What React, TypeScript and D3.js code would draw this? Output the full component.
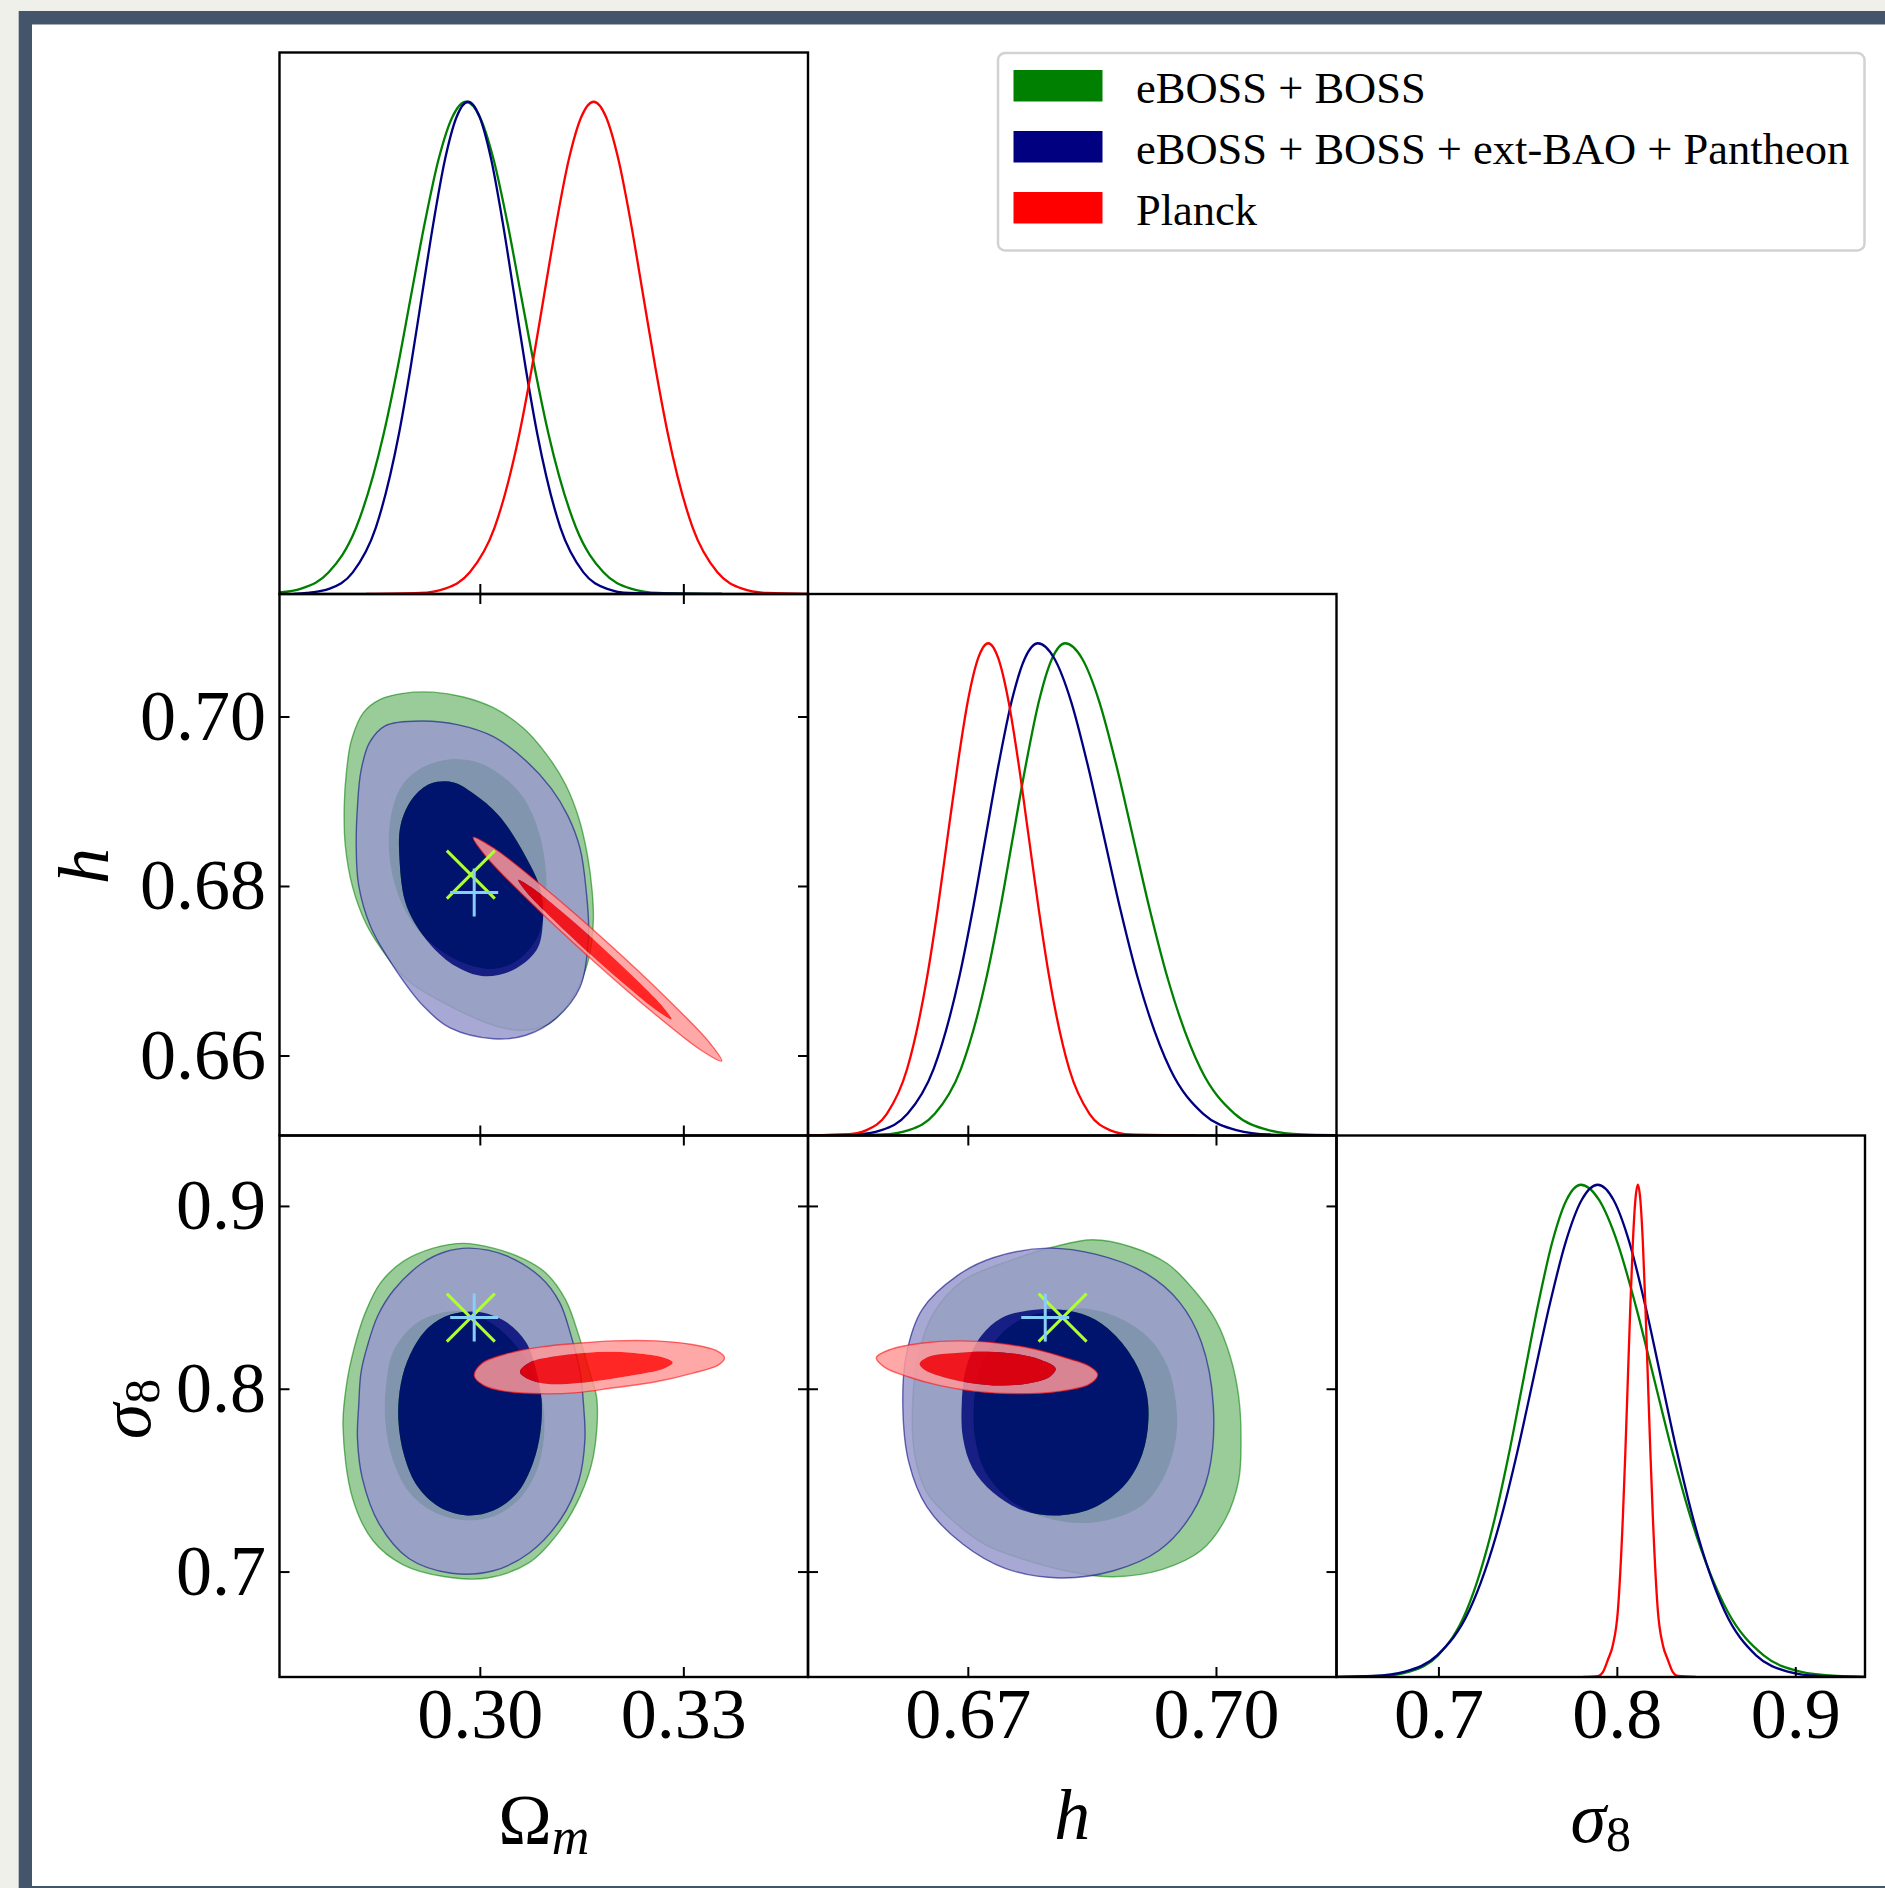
import React from "react";
import * as d3 from "d3";

type Pt = [number, number];

// ---------- axis ranges & ticks ----------
const OMEGA_RANGE: Pt = [0.2704, 0.3483];
const H_RANGE: Pt = [0.65062, 0.71451];
const S8_RANGE: Pt = [0.6426, 0.9388];
const P_MAX = 1.1;

const OMEGA_TICKS = [0.3, 0.33];
const OMEGA_TICK_LABELS = ["0.30", "0.33"];
const H_TICKS_Y = [0.66, 0.68, 0.7];
const H_TICK_LABELS_Y = ["0.66", "0.68", "0.70"];
const H_TICKS_X = [0.67, 0.7];
const H_TICK_LABELS_X = ["0.67", "0.70"];
const S8_TICKS = [0.7, 0.8, 0.9];
const S8_TICK_LABELS = ["0.7", "0.8", "0.9"];

// ---------- series ----------
const SERIES = ["eBOSS + BOSS", "eBOSS + BOSS + ext-BAO + Pantheon", "Planck"];
const COLORS = ["#008000", "#000080", "#ff0000"];
const PALE = ["#99cc99", "#9999cc", "#ff9999"];
const ALPHA = [1, 0.85, 0.85];

// ---------- reference markers ----------
const MARK_X = [0.2986, 0.6814, 0.8392];
const MARK_PLUS = [0.2991, 0.6793, 0.8392];

// ---------- 1D marginals [value, normalised density] ----------
const OM_GREEN_1D: Pt[] = [[0.2704,0.0032],[0.2736,0.011],[0.27765,0.044],[0.2817,0.135],[0.28575,0.325],[0.28778,0.458],[0.2898,0.607],[0.29183,0.755],[0.29385,0.883],[0.29588,0.969],[0.2979,1],[0.29993,0.969],[0.30195,0.883],[0.30398,0.755],[0.306,0.607],[0.30803,0.458],[0.31005,0.325],[0.3141,0.135],[0.31815,0.044],[0.3222,0.011],[0.32625,0.002],[0.3356,0]];
const OM_BLUE_1D: Pt[] = [[0.2725,0],[0.2744,0.002],[0.2778,0.011],[0.2812,0.044],[0.2846,0.135],[0.288,0.325],[0.2897,0.458],[0.2914,0.607],[0.2931,0.755],[0.2948,0.883],[0.2965,0.969],[0.2982,1],[0.2999,0.969],[0.3016,0.883],[0.3033,0.755],[0.305,0.607],[0.3067,0.458],[0.3084,0.325],[0.3118,0.135],[0.3152,0.044],[0.3186,0.011],[0.322,0.002],[0.3356,0]];
const OM_RED_1D: Pt[] = [[0.2832,0],[0.29115,0.002],[0.2948,0.011],[0.29845,0.044],[0.3021,0.135],[0.30575,0.325],[0.30758,0.458],[0.3094,0.607],[0.31123,0.755],[0.31305,0.883],[0.31488,0.969],[0.3167,1],[0.31853,0.969],[0.32035,0.883],[0.32218,0.755],[0.324,0.607],[0.32583,0.458],[0.32765,0.325],[0.3313,0.135],[0.33495,0.044],[0.3386,0.011],[0.34225,0.002],[0.3483,0]];

const H_GREEN_1D: Pt[] = [[0.6508,0],[0.65965,0.002],[0.6628,0.011],[0.66595,0.044],[0.6691,0.135],[0.67225,0.325],[0.67383,0.458],[0.6754,0.607],[0.67698,0.755],[0.67855,0.883],[0.68013,0.969],[0.6817,1],[0.68375,0.969],[0.6858,0.883],[0.68785,0.755],[0.6899,0.607],[0.69195,0.458],[0.694,0.325],[0.6981,0.135],[0.7022,0.044],[0.7063,0.011],[0.7104,0.002],[0.7143,0.0005]];
const H_BLUE_1D: Pt[] = [[0.6508,0],[0.65635,0.002],[0.6595,0.011],[0.66265,0.044],[0.6658,0.135],[0.66895,0.325],[0.67053,0.458],[0.6721,0.607],[0.67368,0.755],[0.67525,0.883],[0.67683,0.969],[0.6784,1],[0.6804,0.969],[0.6824,0.883],[0.6844,0.755],[0.6864,0.607],[0.6884,0.458],[0.6904,0.325],[0.6944,0.135],[0.6984,0.044],[0.7024,0.011],[0.7064,0.002],[0.7143,0]];
const H_RED_1D: Pt[] = [[0.6508,0],[0.65525,0.002],[0.6577,0.011],[0.66015,0.044],[0.6626,0.135],[0.66505,0.325],[0.66628,0.458],[0.6675,0.607],[0.66873,0.755],[0.66995,0.883],[0.67118,0.969],[0.6724,1],[0.67363,0.969],[0.67485,0.883],[0.67608,0.755],[0.6773,0.607],[0.67853,0.458],[0.67975,0.325],[0.6822,0.135],[0.68465,0.044],[0.6871,0.011],[0.68955,0.002],[0.6975,0]];

const S8_GREEN_1D: Pt[] = [[0.6426,0],[0.6675,0.002],[0.6835,0.011],[0.6995,0.044],[0.7155,0.135],[0.7315,0.325],[0.7395,0.458],[0.7475,0.607],[0.7555,0.755],[0.7635,0.883],[0.7715,0.969],[0.7795,1],[0.78975,0.969],[0.8,0.883],[0.81025,0.755],[0.8205,0.607],[0.83075,0.458],[0.841,0.325],[0.8615,0.135],[0.882,0.044],[0.9025,0.011],[0.923,0.002],[0.9388,0.0003]];
const S8_BLUE_1D: Pt[] = [[0.6426,0],[0.663,0.002],[0.681,0.011],[0.699,0.044],[0.717,0.135],[0.735,0.325],[0.744,0.458],[0.753,0.607],[0.762,0.755],[0.771,0.883],[0.78,0.969],[0.789,1],[0.79788,0.969],[0.80675,0.883],[0.81563,0.755],[0.8245,0.607],[0.83338,0.458],[0.84225,0.325],[0.86,0.135],[0.87775,0.044],[0.8955,0.011],[0.91325,0.002],[0.9388,0]];
const S8_RED_1D: Pt[] = [[0.781,0],[0.7891,0.002],[0.7919,0.01],[0.7947,0.035],[0.7975,0.065],[0.8003,0.135],[0.8031,0.325],[0.8045,0.458],[0.8059,0.607],[0.8073,0.755],[0.8087,0.883],[0.8101,0.969],[0.8115,1],[0.8129,0.969],[0.8143,0.883],[0.8157,0.755],[0.8171,0.607],[0.8185,0.458],[0.8199,0.325],[0.8227,0.135],[0.8255,0.065],[0.8283,0.035],[0.8311,0.01],[0.8339,0.002],[0.844,0]];

// ---------- 2D contours (68% inner, 95% outer) ----------
const OMH_GREEN_OUTER: Pt[] = [[0.28863,0.70279],[0.29306,0.70293],[0.2975,0.70236],[0.30193,0.70109],[0.30637,0.69867],[0.30992,0.69541],[0.31258,0.692],[0.31453,0.68802],[0.31577,0.68376],[0.31648,0.6795],[0.31666,0.67595],[0.31595,0.6714],[0.31382,0.66714],[0.30992,0.66373],[0.30619,0.66302],[0.30264,0.66345],[0.29661,0.66544],[0.28916,0.66899],[0.28526,0.67282],[0.28313,0.67566],[0.28118,0.67992],[0.28011,0.68475],[0.27994,0.68944],[0.28029,0.6937],[0.281,0.69725],[0.28277,0.70052],[0.28526,0.70208]];
const OMH_GREEN_INNER: Pt[] = [[0.29129,0.69398],[0.29519,0.69498],[0.29945,0.6947],[0.30335,0.69299],[0.30654,0.69029],[0.30868,0.68632],[0.30974,0.6812],[0.30938,0.67666],[0.30832,0.67382],[0.30548,0.67126],[0.30193,0.67027],[0.2975,0.67098],[0.29306,0.67311],[0.28969,0.67609],[0.28739,0.68021],[0.2865,0.68475],[0.28703,0.68916],[0.28863,0.69214]];
const OMH_BLUE_OUTER: Pt[] = [[0.28597,0.69896],[0.29129,0.69953],[0.29661,0.6991],[0.30193,0.69768],[0.30672,0.69484],[0.31045,0.69157],[0.31293,0.6883],[0.31471,0.68447],[0.31559,0.67964],[0.31595,0.6741],[0.31471,0.66814],[0.31116,0.66444],[0.30672,0.66245],[0.30193,0.66203],[0.29555,0.66331],[0.29164,0.66586],[0.28721,0.67055],[0.28384,0.67524],[0.28205,0.68021],[0.28171,0.68475],[0.28189,0.68944],[0.28242,0.6937],[0.28366,0.69697]];
const OMH_BLUE_INNER: Pt[] = [[0.29608,0.69228],[0.29892,0.691],[0.30282,0.6883],[0.30672,0.68347],[0.30885,0.67964],[0.30921,0.67566],[0.30832,0.67254],[0.30477,0.67012],[0.30051,0.66941],[0.29643,0.67055],[0.29253,0.67325],[0.28916,0.67765],[0.2881,0.68305],[0.28827,0.68731],[0.29005,0.69043],[0.29271,0.69214]];
const OMH_RED_OUTER: Pt[] = [[0.33557,0.65941],[0.33255,0.66068],[0.32544,0.66514],[0.31613,0.6716],[0.30713,0.67835],[0.30083,0.68355],[0.29895,0.6858],[0.30197,0.68454],[0.30908,0.68008],[0.3184,0.67362],[0.32739,0.66687],[0.33369,0.66167]];
const OMH_RED_INNER: Pt[] = [[0.32819,0.66433],[0.32635,0.66515],[0.32197,0.66795],[0.31623,0.67197],[0.31067,0.67616],[0.30677,0.67938],[0.30559,0.68078],[0.30742,0.67996],[0.31181,0.67716],[0.31755,0.67313],[0.32311,0.66894],[0.32701,0.66573]];

const OMS8_GREEN_OUTER: Pt[] = [[0.2975,0.87981],[0.30193,0.87718],[0.30637,0.87125],[0.30974,0.86335],[0.31258,0.84886],[0.31471,0.82713],[0.31613,0.80935],[0.31719,0.79421],[0.31666,0.76326],[0.31471,0.74153],[0.31169,0.72243],[0.30726,0.70531],[0.30105,0.69675],[0.29484,0.69741],[0.28863,0.70399],[0.28419,0.71716],[0.28118,0.74021],[0.27976,0.77972],[0.28029,0.80277],[0.28136,0.82186],[0.28295,0.84096],[0.28526,0.85808],[0.28863,0.86993],[0.29306,0.87718]];
const OMS8_GREEN_INNER: Pt[] = [[0.2904,0.83569],[0.29395,0.84162],[0.29803,0.84228],[0.30158,0.83635],[0.30513,0.8245],[0.30761,0.80935],[0.30921,0.79289],[0.30938,0.77313],[0.30832,0.75536],[0.30584,0.74021],[0.30193,0.73033],[0.2975,0.72836],[0.29306,0.73297],[0.28952,0.7435],[0.28703,0.76194],[0.28597,0.78301],[0.28615,0.80408],[0.28721,0.8212]];
const OMS8_BLUE_OUTER: Pt[] = [[0.29839,0.87718],[0.30371,0.87322],[0.30885,0.86137],[0.31169,0.84754],[0.31329,0.83042],[0.31471,0.80935],[0.31524,0.79026],[0.31542,0.77248],[0.31453,0.75009],[0.31187,0.72902],[0.30726,0.71058],[0.30193,0.7007],[0.29573,0.69938],[0.28952,0.70729],[0.28508,0.72638],[0.2826,0.7514],[0.28189,0.77313],[0.28207,0.79091],[0.28242,0.80935],[0.28331,0.82318],[0.2849,0.8403],[0.28721,0.85413],[0.29129,0.86862],[0.29484,0.8752]];
const OMS8_BLUE_INNER: Pt[] = [[0.29981,0.84228],[0.30371,0.83701],[0.30672,0.82581],[0.30832,0.80935],[0.30903,0.79421],[0.30885,0.77643],[0.30779,0.75996],[0.30548,0.7435],[0.30193,0.73363],[0.29803,0.73099],[0.29395,0.7356],[0.29076,0.74679],[0.28881,0.76326],[0.28792,0.78301],[0.28827,0.80277],[0.28969,0.81923],[0.29235,0.83372],[0.29573,0.84096]];
const OMS8_RED_OUTER: Pt[] = [[0.2991,0.80738],[0.30016,0.81396],[0.30371,0.81923],[0.30903,0.82318],[0.31435,0.82516],[0.31967,0.82647],[0.32588,0.82647],[0.33121,0.8245],[0.33475,0.8212],[0.33599,0.81725],[0.33511,0.8133],[0.33121,0.80869],[0.32588,0.80408],[0.31967,0.80079],[0.31435,0.79816],[0.30903,0.7975],[0.30371,0.79882],[0.30051,0.80211]];
const OMS8_RED_INNER: Pt[] = [[0.30584,0.80935],[0.30726,0.81462],[0.3108,0.81791],[0.31524,0.81989],[0.31967,0.82055],[0.32411,0.81923],[0.32712,0.81725],[0.32837,0.81462],[0.32712,0.81133],[0.32322,0.80803],[0.31879,0.8054],[0.31435,0.80342],[0.31045,0.80277],[0.30761,0.80474]];

const HS8_GREEN_OUTER: Pt[] = [[0.67518,0.87059],[0.68027,0.87783],[0.68507,0.88179],[0.68973,0.87783],[0.69409,0.86862],[0.6973,0.85413],[0.69992,0.83767],[0.70166,0.81791],[0.70268,0.79618],[0.70297,0.77248],[0.70268,0.75009],[0.70108,0.72902],[0.69817,0.7119],[0.69337,0.70136],[0.68755,0.69741],[0.68245,0.70004],[0.67736,0.70597],[0.67198,0.71519],[0.6679,0.72902],[0.66499,0.7435],[0.66354,0.76326],[0.66324,0.7896],[0.66383,0.81594],[0.66572,0.84096],[0.66936,0.8594]];
const HS8_GREEN_INNER: Pt[] = [[0.67954,0.84228],[0.68391,0.84425],[0.68827,0.83898],[0.69191,0.82779],[0.69409,0.81264],[0.69511,0.79289],[0.69511,0.77313],[0.6938,0.75338],[0.69118,0.73692],[0.68682,0.72836],[0.68245,0.72704],[0.67809,0.73165],[0.67445,0.74153],[0.67198,0.75536],[0.67081,0.77313],[0.67067,0.79289],[0.67154,0.81264],[0.67372,0.82911],[0.67634,0.83832]];
const HS8_BLUE_OUTER: Pt[] = [[0.66863,0.86203],[0.67299,0.87191],[0.67954,0.87718],[0.68536,0.87388],[0.69148,0.86335],[0.69555,0.84754],[0.69817,0.82581],[0.69962,0.79091],[0.69904,0.75404],[0.697,0.73165],[0.69308,0.7119],[0.68755,0.7007],[0.681,0.69675],[0.67445,0.70202],[0.66936,0.71519],[0.66499,0.7356],[0.66281,0.75996],[0.66208,0.79091],[0.66252,0.81923],[0.66441,0.84359]];
const HS8_BLUE_INNER: Pt[] = [[0.67707,0.84293],[0.681,0.84359],[0.68464,0.83964],[0.68755,0.83042],[0.69002,0.81594],[0.69148,0.79947],[0.69177,0.78301],[0.69104,0.76457],[0.689,0.74811],[0.68536,0.7356],[0.681,0.73099],[0.67663,0.73363],[0.67299,0.7435],[0.67052,0.75667],[0.66936,0.77313],[0.66921,0.79289],[0.66979,0.81264],[0.67154,0.82911],[0.67401,0.83898]];
const HS8_RED_OUTER: Pt[] = [[0.65888,0.81725],[0.66062,0.82186],[0.66426,0.82516],[0.66892,0.82647],[0.67372,0.82516],[0.67809,0.82186],[0.68173,0.81725],[0.68464,0.81264],[0.68565,0.80803],[0.68464,0.80277],[0.681,0.79882],[0.6759,0.7975],[0.67081,0.79882],[0.66645,0.80211],[0.66281,0.80672],[0.6599,0.81199]];
const HS8_RED_INNER: Pt[] = [[0.66412,0.81396],[0.66528,0.81791],[0.66863,0.81989],[0.67227,0.82055],[0.6759,0.81923],[0.67881,0.81594],[0.68056,0.81133],[0.67983,0.80672],[0.67663,0.80277],[0.67299,0.80211],[0.66936,0.80408],[0.66645,0.80738],[0.6647,0.81067]];

// ---------- layout ----------
const W = 1885;
const H = 1888;
const COLS = [279.5, 808, 1336.5];
const ROWS = [52.5, 594, 1135.5];
const PW = 528.5;
const PH = 541.5;
const FONT = '"Liberation Serif", "Times New Roman", Times, serif';
const TICK = 10;

const RANGES = [OMEGA_RANGE, H_RANGE, S8_RANGE];
const ONE_D: Pt[][][] = [
  [OM_GREEN_1D, OM_BLUE_1D, OM_RED_1D],
  [H_GREEN_1D, H_BLUE_1D, H_RED_1D],
  [S8_GREEN_1D, S8_BLUE_1D, S8_RED_1D],
];
const TWO_D: { row: number; col: number; sets: Pt[][][] }[] = [
  { row: 1, col: 0, sets: [[OMH_GREEN_OUTER, OMH_GREEN_INNER], [OMH_BLUE_OUTER, OMH_BLUE_INNER], [OMH_RED_OUTER, OMH_RED_INNER]] },
  { row: 2, col: 0, sets: [[OMS8_GREEN_OUTER, OMS8_GREEN_INNER], [OMS8_BLUE_OUTER, OMS8_BLUE_INNER], [OMS8_RED_OUTER, OMS8_RED_INNER]] },
  { row: 2, col: 1, sets: [[HS8_GREEN_OUTER, HS8_GREEN_INNER], [HS8_BLUE_OUTER, HS8_BLUE_INNER], [HS8_RED_OUTER, HS8_RED_INNER]] },
];
const X_TICKS = [OMEGA_TICKS, H_TICKS_X, S8_TICKS];
const X_TICK_LABELS = [OMEGA_TICK_LABELS, H_TICK_LABELS_X, S8_TICK_LABELS];
const Y_TICKS = [[], H_TICKS_Y, S8_TICKS];
const Y_TICK_LABELS = [[], H_TICK_LABELS_Y, S8_TICK_LABELS];

export default function App() {
  const xs = [0, 1, 2].map((j) => d3.scaleLinear().domain(RANGES[j]).range([COLS[j], COLS[j] + PW]));
  const ys = [0, 1, 2].map((i) => d3.scaleLinear().domain(RANGES[i]).range([ROWS[i] + PH, ROWS[i]]));
  const ps = [0, 1, 2].map((i) => d3.scaleLinear().domain([0, P_MAX]).range([ROWS[i] + PH, ROWS[i]]));

  const elements: React.ReactNode[] = [];

  const clips: React.ReactNode[] = [];
  for (let i = 0; i < 3; i++)
    for (let j = 0; j <= i; j++)
      clips.push(
        <clipPath id={`clip-${i}-${j}`} key={`c${i}${j}`}>
          <rect x={COLS[j]} y={ROWS[i]} width={PW} height={PH} />
        </clipPath>
      );

  // 2D panels
  TWO_D.forEach(({ row, col, sets }) => {
    const closed = d3
      .line<Pt>()
      .x((d) => xs[col](d[0]))
      .y((d) => ys[row](d[1]))
      .curve(d3.curveCatmullRomClosed.alpha(0.5));
    const g: React.ReactNode[] = [];
    sets.forEach(([outer, inner], k) => {
      const po = closed(outer) || "";
      const pi = closed(inner) || "";
      g.push(
        <path key={`o${k}`} d={po + pi} fill={PALE[k]} fillOpacity={ALPHA[k]} fillRule="evenodd" stroke="none" />,
        <path key={`i${k}`} d={pi} fill={COLORS[k]} fillOpacity={ALPHA[k]} stroke="none" />,
        <path key={`ol${k}`} d={po} fill="none" stroke={COLORS[k]} strokeOpacity={0.55} strokeWidth={1.4} />
      );
    });
    const mx = xs[col](MARK_X[col]);
    const my = ys[row](MARK_X[row]);
    const px = xs[col](MARK_PLUS[col]);
    const py = ys[row](MARK_PLUS[row]);
    const r = 24;
    g.push(
      <g key="mx" stroke="#adff2f" strokeWidth={3}>
        <line x1={mx - r} y1={my - r} x2={mx + r} y2={my + r} />
        <line x1={mx - r} y1={my + r} x2={mx + r} y2={my - r} />
      </g>,
      <g key="mp" stroke="#87cefa" strokeWidth={3}>
        <line x1={px - r} y1={py} x2={px + r} y2={py} />
        <line x1={px} y1={py - r} x2={px} y2={py + r} />
      </g>
    );
    elements.push(
      <g key={`p${row}${col}`} clipPath={`url(#clip-${row}-${col})`}>
        {g}
      </g>
    );
  });

  // 1D panels
  for (let i = 0; i < 3; i++) {
    const line = d3
      .line<Pt>()
      .x((d) => xs[i](d[0]))
      .y((d) => ps[i](d[1]))
      .curve(d3.curveMonotoneX);
    elements.push(
      <g key={`d${i}`} clipPath={`url(#clip-${i}-${i})`}>
        {ONE_D[i].map((s, k) => (
          <path key={k} d={line(s) || ""} fill="none" stroke={COLORS[k]} strokeWidth={2.3} />
        ))}
      </g>
    );
  }

  // frames & ticks
  const frames: React.ReactNode[] = [];
  for (let i = 0; i < 3; i++) {
    for (let j = 0; j <= i; j++) {
      const x0 = COLS[j], y0 = ROWS[i], x1 = COLS[j] + PW, y1 = ROWS[i] + PH;
      X_TICKS[j].forEach((v, n) => {
        const x = xs[j](v);
        frames.push(<line key={`xb${i}${j}${n}`} x1={x} x2={x} y1={y1} y2={y1 - TICK} stroke="#000" strokeWidth={2} />);
        if (i !== j)
          frames.push(<line key={`xt${i}${j}${n}`} x1={x} x2={x} y1={y0} y2={y0 + TICK} stroke="#000" strokeWidth={2} />);
      });
      if (i !== j) {
        Y_TICKS[i].forEach((v, n) => {
          const y = ys[i](v);
          frames.push(<line key={`yl${i}${j}${n}`} x1={x0} x2={x0 + TICK} y1={y} y2={y} stroke="#000" strokeWidth={2} />);
          frames.push(<line key={`yr${i}${j}${n}`} x1={x1} x2={x1 - TICK} y1={y} y2={y} stroke="#000" strokeWidth={2} />);
        });
      }
      frames.push(
        <rect key={`f${i}${j}`} x={x0} y={y0} width={PW} height={PH} fill="none" stroke="#000" strokeWidth={2.4} />
      );
    }
  }

  // tick labels
  const labels: React.ReactNode[] = [];
  for (let j = 0; j < 3; j++) {
    X_TICKS[j].forEach((v, n) =>
      labels.push(
        <text key={`xl${j}${n}`} x={xs[j](v)} y={1738} textAnchor="middle" fontSize={72}>
          {X_TICK_LABELS[j][n]}
        </text>
      )
    );
  }
  for (let i = 1; i < 3; i++) {
    Y_TICKS[i].forEach((v, n) =>
      labels.push(
        <text key={`yl${i}${n}`} x={266} y={ys[i](v) + 23} textAnchor="end" fontSize={72}>
          {Y_TICK_LABELS[i][n]}
        </text>
      )
    );
  }

  const axisLabels = (
    <g>
      <text x={COLS[0] + PW / 2} y={1844} textAnchor="middle" fontSize={72}>
        Ω<tspan fontStyle="italic" fontSize={52} dy={10}>m</tspan>
      </text>
      <text x={COLS[1] + PW / 2} y={1839} textAnchor="middle" fontSize={72} fontStyle="italic">
        h
      </text>
      <text x={COLS[2] + PW / 2} y={1842} textAnchor="middle" fontSize={72}>
        <tspan fontStyle="italic">σ</tspan>
        <tspan fontSize={50} dy={9}>8</tspan>
      </text>
      <text transform="translate(108,866) rotate(-90)" textAnchor="middle" fontSize={72} fontStyle="italic">
        h
      </text>
      <text transform="translate(150,1409) rotate(-90)" textAnchor="middle" fontSize={72}>
        <tspan fontStyle="italic">σ</tspan>
        <tspan fontSize={50} dy={9}>8</tspan>
      </text>
    </g>
  );

  const LX = 998, LY = 53, LW = 866.5, LH = 197.5;
  const legend = (
    <g>
      <rect x={LX} y={LY} width={LW} height={LH} rx={7} fill="#fff" stroke="#d2d2d2" strokeWidth={2.5} />
      {SERIES.map((s, k) => (
        <g key={k}>
          <rect x={1013.5} y={70 + k * 61} width={89} height={31.5} fill={COLORS[k]} />
          <text x={1136} y={102.5 + k * 61} fontSize={44.5}>
            {s}
          </text>
        </g>
      ))}
    </g>
  );

  return (
    <div style={{ position: "absolute", left: 0, top: 0, width: W, height: H, overflow: "hidden" }}>
      <svg width={W} height={H} viewBox={`0 0 ${W} ${H}`} style={{ display: "block", fontFamily: FONT }}>
        <rect x={0} y={0} width={W} height={H} fill="#f0f0eb" />
        <rect x={18.7} y={11} width={W} height={H} fill="#44546a" />
        <rect x={32} y={24.5} width={W} height={1886 - 24.5} fill="#ffffff" />
        <defs>{clips}</defs>
        {elements}
        {frames}
        {labels}
        {axisLabels}
        {legend}
      </svg>
    </div>
  );
}
